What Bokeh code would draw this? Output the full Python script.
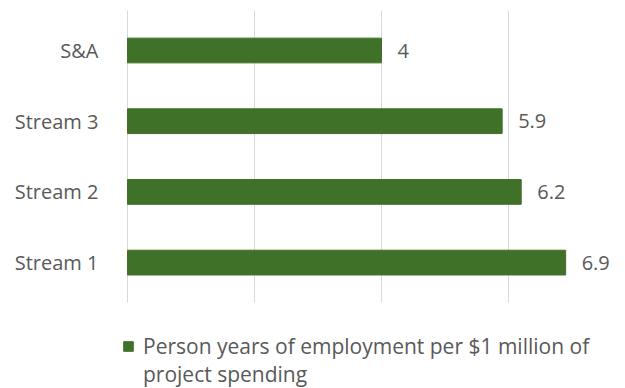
from bokeh.plotting import figure
from bokeh.models import Range1d, FixedTicker, Legend, LegendItem, ColumnDataSource
from bokeh.core.properties import value
from bokeh.embed import file_html
from bokeh.resources import INLINE

categories = ["Stream 1", "Stream 2", "Stream 3", "S&A"]
values = [6.9, 6.2, 5.9, 4]
value_labels = ["6.9", "6.2", "5.9", "4"]
legend_line1 = "Person years of employment per $1 million of"
legend_line2 = "project spending"
grid_ticks = [0, 2, 4, 6]

FONT = "Open Sans"
TXT = "#595959"
BAR = "#3F7128"
GRID = "#D9D9D9"

positions = list(range(len(categories)))
src = ColumnDataSource(dict(pos=positions, val=values, lab=value_labels))

PX_PER_UNIT_X = 63.5
PX_PER_ROW = 70.7
FRAME_LEFT = 115
ZERO_PX = 127
FRAME_W = 625 - FRAME_LEFT
FRAME_H = 388
x_start = -(ZERO_PX - FRAME_LEFT) / PX_PER_UNIT_X
x_end = x_start + FRAME_W / PX_PER_UNIT_X
y_end = positions[-1] + 50 / PX_PER_ROW
y_start = y_end - FRAME_H / PX_PER_ROW

p = figure(width=625, height=388, output_backend="svg", toolbar_location=None,
           x_range=Range1d(x_start, x_end), y_range=Range1d(y_start, y_end),
           min_border_left=FRAME_LEFT, min_border_right=0,
           min_border_top=0, min_border_bottom=0)
p.frame_width = FRAME_W
p.frame_height = FRAME_H
p.outline_line_color = None
p.background_fill_color = "white"
p.border_fill_color = "white"

# vertical gridlines spanning the category band
ext = 0.566
p.segment(x0=grid_ticks, x1=grid_ticks,
          y0=[positions[0] - ext] * len(grid_ticks), y1=[positions[-1] + ext] * len(grid_ticks),
          line_color=GRID, line_width=1)

r = p.hbar(y="pos", right="val", left=0, height=0.35, color=BAR, source=src)
p.text(x="val", y="pos", text="lab", source=src, x_offset=16, text_baseline="middle",
       text_align="left", text_font=value(FONT), text_font_size="20px", text_color=TXT)

# invisible renderer used for the second legend line
r_blank = p.hbar(y=[], right=[], left=0, height=0.35, fill_alpha=0, line_alpha=0)

p.xaxis.visible = False
p.xgrid.grid_line_color = None
p.ygrid.grid_line_color = None

yax = p.yaxis[0]
yax.ticker = FixedTicker(ticks=positions)
yax.major_label_overrides = {pos: cat for pos, cat in zip(positions, categories)}
yax.axis_line_color = None
yax.major_tick_line_color = None
yax.minor_tick_line_color = None
yax.major_label_text_font = FONT
yax.major_label_text_font_size = "20px"
yax.major_label_text_color = TXT
yax.major_label_standoff = 11

legend = Legend(items=[LegendItem(label=legend_line1, renderers=[r]),
                       LegendItem(label=legend_line2, renderers=[r_blank])],
                location=(7, 0), orientation="vertical",
                glyph_width=12, glyph_height=12, label_standoff=9, spacing=0,
                label_height=25,
                label_text_font=FONT, label_text_font_size="21px", label_text_color=TXT,
                border_line_color=None, background_fill_alpha=0, padding=0, margin=0)
p.add_layout(legend, "center")

open("out.html", "w").write(file_html(p, INLINE))
